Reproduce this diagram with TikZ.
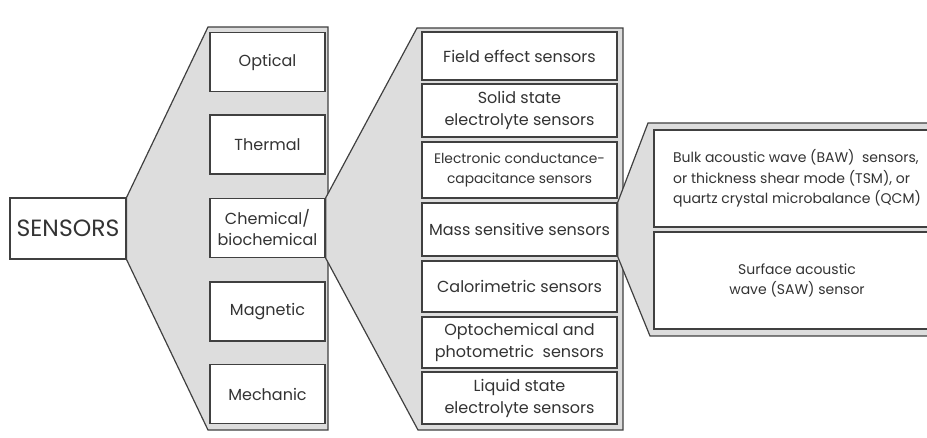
\documentclass[tikz,border=0pt]{standalone}
\usepackage{fontspec}
\setmainfont{Poppins}
\begin{document}
\begin{tikzpicture}[x=1pt,y=-1pt,
  every node/.style={text=black!80},
  box/.style={draw=black!75, line width=1.5pt, fill=white, inner sep=0pt, align=center},
  fan/.style={draw=black!75, line width=1.2pt, fill=fangray, line join=miter}]
\definecolor{fangray}{RGB}{221,221,221}
\useasboundingbox (0,0) rectangle (927,438);
\clip (0,0) rectangle (927,438);
% nodes
\node[box, line width=1.1pt, minimum width=116pt, minimum height=61pt, font=\fontsize{23.5}{26}\selectfont] (sensors) at (68,228.5) {SENSORS};
% fan 1
\coordinate (f1tl) at (208,27);
\coordinate (f1tr) at (328,27);
\coordinate (f1br) at (328,430);
\coordinate (f1bl) at (208,430);
\draw[fan] (sensors.north east) -- (f1tl) -- (f1tr) -- (f1br) -- (f1bl) -- (sensors.south east) -- cycle;
\tikzset{c1/.style={box, minimum width=115pt, minimum height=59pt, font=\fontsize{16}{21}\selectfont}}
\node[c1] (optical) at (267.5,62) {Optical};
\node[c1] (thermal) at (267.5,144.5) {Thermal};
\node[c1] (chem) at (267.5,228) {Chemical/\\biochemical};
\node[c1] (magnetic) at (267.5,311.5) {Magnetic};
\node[c1] (mechanic) at (267.5,394) {Mechanic};
% fan 2
\coordinate (f2tl) at (417,28);
\coordinate (f2tr) at (623,28);
\coordinate (f2br) at (623,430);
\coordinate (f2bl) at (418,430);
\draw[fan] (chem.north east) -- (f2tl) -- (f2tr) -- (f2br) -- (f2bl) -- (chem.south east) -- cycle;
\tikzset{c2/.style={box, minimum width=195pt, font=\fontsize{16}{22}\selectfont}}
\node[c2, minimum height=48pt] (field) at (519.5,56) {Field effect sensors};
\node[c2, minimum height=53pt] (solid) at (519.5,110.5) {Solid state\\electrolyte sensors};
\node[c2, minimum height=56pt, font=\fontsize{13.8}{20}\selectfont] (elec) at (519.5,170) {Electronic conductance-\\capacitance sensors};
\node[c2, minimum height=53pt] (mass) at (519.5,229.5) {Mass sensitive sensors};
\node[c2, minimum height=51pt] (calor) at (519.5,286.5) {Calorimetric sensors};
\node[c2, minimum height=51pt] (opto) at (519.5,342.5) {Optochemical and\\photometric~~sensors};
\node[c2, minimum height=52pt] (liquid) at (519.5,398) {Liquid state\\electrolyte sensors};
% fan 3
\coordinate (f3tl) at (648,123);
\coordinate (f3tr) at (945,123);
\coordinate (f3br) at (945,336);
\coordinate (f3bl) at (650,336);
\draw[fan] (mass.north east) -- (f3tl) -- (f3tr) -- (f3br) -- (f3bl) -- (mass.south east) -- cycle;
\tikzset{c3/.style={box, minimum width=286pt, minimum height=97pt, font=\fontsize{14}{20.5}\selectfont}}
\node[c3, align=left] (baw) at (797,178.5) {Bulk acoustic wave (BAW)~~sensors,\\or thickness shear mode (TSM), or\\quartz crystal microbalance (QCM)};
\node[c3] (saw) at (797,280.5) {Surface acoustic\\wave (SAW) sensor};
\end{tikzpicture}
\end{document}
